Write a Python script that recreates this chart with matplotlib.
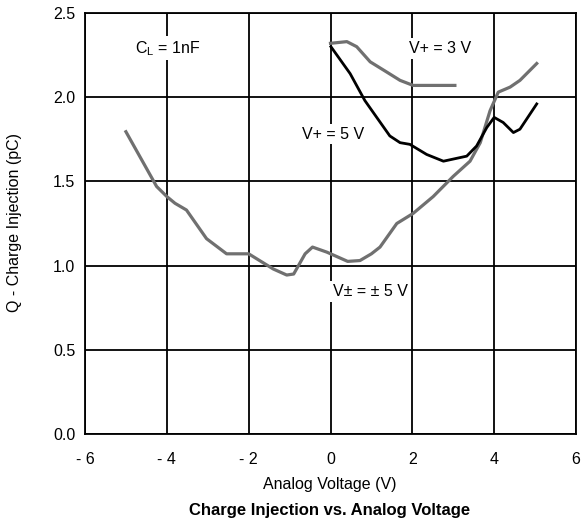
import matplotlib.pyplot as plt

plt.rcParams['font.family'] = ['Liberation Sans', 'DejaVu Sans']

# V+- = +-5 V curve
x_pm5 = [-5.0, -4.25, -4.0, -3.8, -3.52, -3.03, -2.54, -2.0, -1.4, -1.07, -0.9, -0.62,
         -0.44, -0.09, 0.42, 0.72, 1.0, 1.21, 1.62, 2.02, 2.51, 3.0, 3.41, 3.66, 3.9,
         4.1, 4.39, 4.63, 5.04]
q_pm5 = [1.795, 1.47, 1.41, 1.37, 1.33, 1.16, 1.07, 1.07, 0.98, 0.944, 0.95, 1.07,
         1.11, 1.08, 1.025, 1.03, 1.07, 1.11, 1.25, 1.31, 1.41, 1.53, 1.62, 1.73, 1.92,
         2.03, 2.06, 2.10, 2.20]

# V+ = 5 V curve
x_p5 = [0.01, 0.48, 0.84, 1.13, 1.45, 1.70, 1.94, 2.35, 2.76, 3.33, 3.57, 3.82, 4.0,
        4.22, 4.47, 4.63, 5.04]
q_p5 = [2.30, 2.14, 1.98, 1.88, 1.77, 1.73, 1.72, 1.66, 1.62, 1.65, 1.71, 1.82, 1.88,
        1.85, 1.79, 1.81, 1.96]

# V+ = 3 V curve
x_p3 = [0.0, 0.4, 0.64, 0.97, 1.37, 1.70, 2.02, 3.04]
q_p3 = [2.32, 2.33, 2.30, 2.21, 2.15, 2.10, 2.07, 2.07]

xticks = [-6, -4, -2, 0, 2, 4, 6]
xticklabels = ['- 6', '- 4', '- 2', '0', '2', '4', '6']
yticks = [0.0, 0.5, 1.0, 1.5, 2.0, 2.5]

fs = 11.5
fig = plt.figure(figsize=(5.81, 5.27), dpi=100)
ax = fig.add_axes([85 / 581, 93 / 527, 491 / 581, 421 / 527])

gray = '#707070'
ax.plot(x_pm5, q_pm5, color=gray, lw=2.3, zorder=3)
ax.plot(x_p5, q_p5, color='black', lw=2.0, zorder=3)
ax.plot(x_p3, q_p3, color=gray, lw=2.3, zorder=3)

ax.set_xlim(-6, 6)
ax.set_ylim(0, 2.5)
ax.set_xticks(xticks)
ax.set_xticklabels(xticklabels)
ax.set_yticks(yticks)
ax.set_yticklabels([f'{v:.1f}' for v in yticks])
ax.tick_params(length=0, labelsize=fs)
ax.tick_params(axis='x', pad=13)
ax.tick_params(axis='y', pad=7)
ax.grid(True, color='black', lw=1.3)
for s in ax.spines.values():
    s.set_linewidth(1.3)

box = dict(facecolor='white', edgecolor='none', pad=2)
ax.text(-3.97, 2.29, r'C$_\mathregular{L}$ = 1nF', ha='center', va='center', fontsize=fs, bbox=box, zorder=4)
ax.text(2.68, 2.29, 'V+ = 3 V', ha='center', va='center', fontsize=fs, bbox=box, zorder=4)
ax.text(0.06, 1.78, 'V+ = 5 V', ha='center', va='center', fontsize=fs, bbox=box, zorder=4)
ax.text(0.98, 0.845, 'V\u00b1 = \u00b1 5 V', ha='center', va='center', fontsize=fs, bbox=box, zorder=4)

fig.text(15 / 581, 1 - 223 / 527, 'Q - Charge Injection (pC)', rotation=90,
         ha='center', va='center', fontsize=fs)
fig.text(330 / 581, 1 - 485 / 527, 'Analog Voltage (V)', ha='center', va='center', fontsize=fs)
fig.text(330 / 581, 1 - 510 / 527, 'Charge Injection vs. Analog Voltage',
         ha='center', va='center', fontsize=12, fontweight='bold')

fig.savefig('out.png', dpi=100)
